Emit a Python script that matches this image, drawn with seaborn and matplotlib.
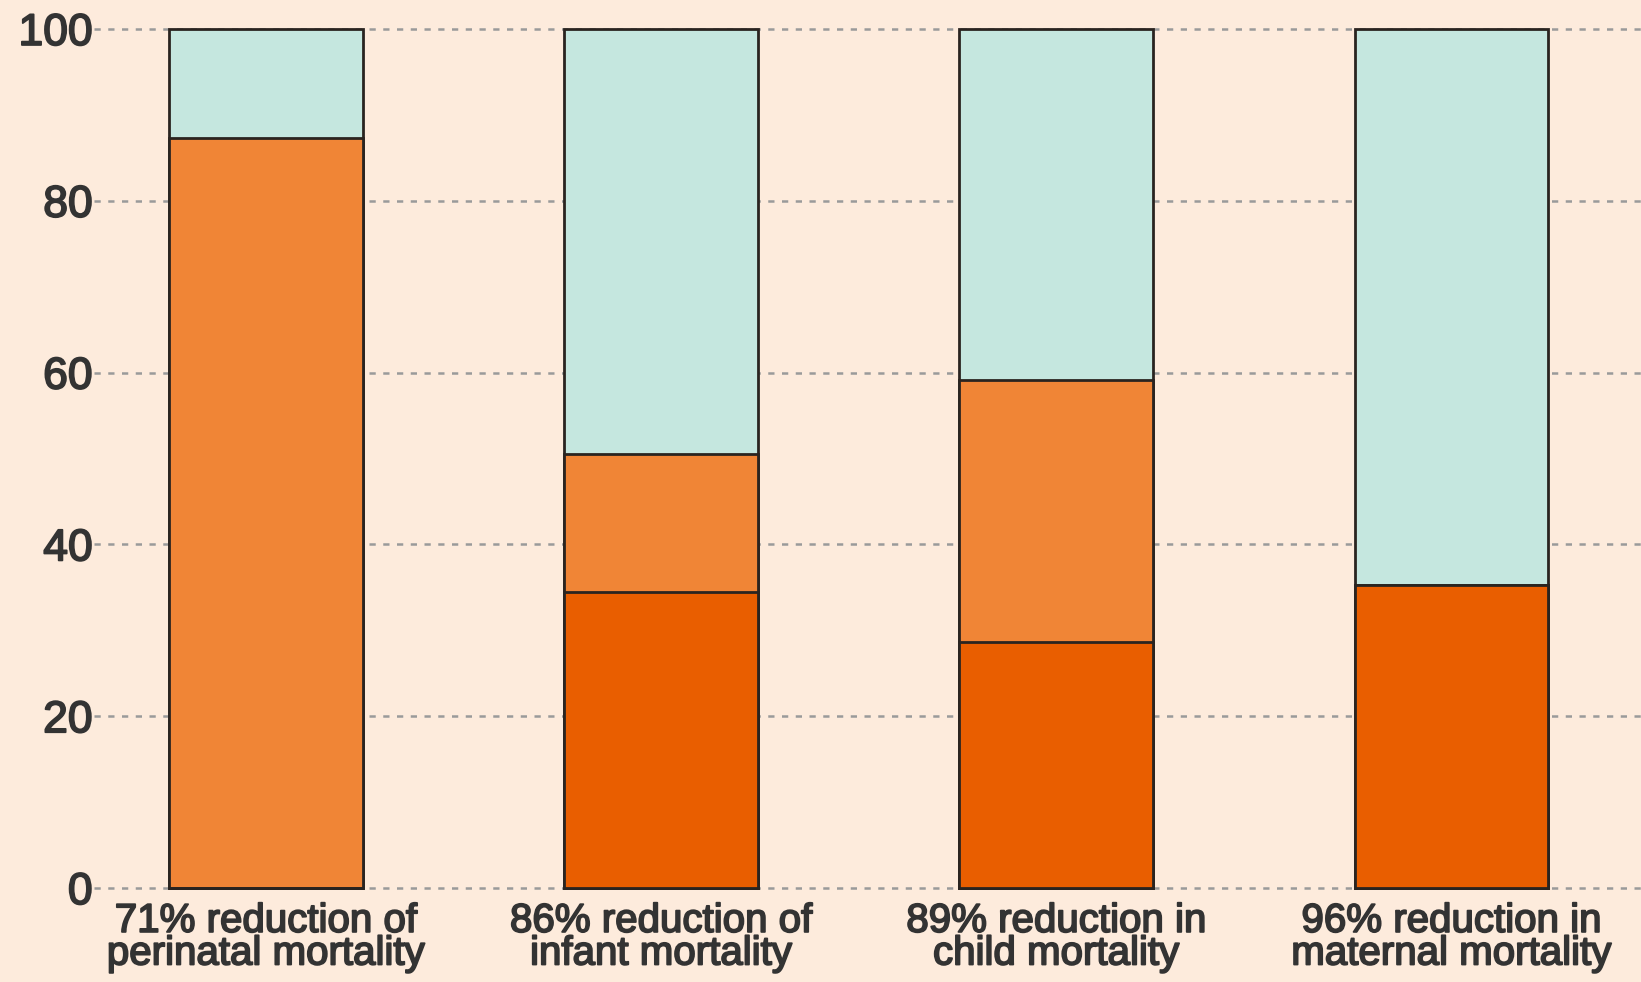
import matplotlib
matplotlib.use("Agg")
import matplotlib.pyplot as plt
import matplotlib.patheffects as pe
import seaborn as sns
import pandas as pd
import numpy as np

categories = ["71% reduction of\nperinatal mortality",
              "86% reduction of\ninfant mortality",
              "89% reduction in\nchild mortality",
              "96% reduction in\nmaternal mortality"]
dark_part = [0.0, 34.5, 28.6, 35.3]
mid_part = [87.3, 16.0, 30.5, 0.0]
light_part = [12.7, 49.5, 40.9, 64.7]

yticks = [0, 20, 40, 60, 80, 100]

BG = "#FDEBDC"
C_LIGHT = "#C5E7DF"
C_MID = "#F08536"
C_DARK = "#E95E00"
EDGE = "#2a2420"
TXT = "#333333"

sns.set_theme(style="white")
plt.rcParams['font.family'] = ['Liberation Sans', 'DejaVu Sans']

df = pd.DataFrame({
    "cat": categories,
    "dark": dark_part,
    "mid": mid_part,
    "light": light_part,
})
df["lvl1"] = df["dark"]
df["lvl2"] = df["dark"] + df["mid"]
df["lvl3"] = df["dark"] + df["mid"] + df["light"]

fig = plt.figure(figsize=(16.41, 9.82), dpi=100, facecolor=BG)
ax = fig.add_axes([0.0573, 0.0957, 0.9427, 0.8748])
ax.set_facecolor(BG)

for col, color in [("lvl3", C_LIGHT), ("lvl2", C_MID), ("lvl1", C_DARK)]:
    sns.barplot(data=df, x="cat", y=col, color=color, width=0.49,
                edgecolor=EDGE, linewidth=2.0, saturation=1, ax=ax, errorbar=None)

for p in ax.patches:
    p.set_clip_on(False)

ax.set_xlim(-0.435, 3.48)
ax.set_ylim(0, 100)
ax.set_yticks(yticks)
ax.set_yticklabels([str(t) for t in yticks], fontsize=32, color=TXT)
ax.tick_params(axis="y", length=0, pad=1)
ax.tick_params(axis="x", length=0, pad=10, labelsize=29, labelcolor=TXT)
stroke = [pe.withStroke(linewidth=1.3, foreground=TXT)]
for lbl in ax.get_xticklabels():
    lbl.set_linespacing(0.82)
    lbl.set_path_effects(stroke)
for lbl in ax.get_yticklabels():
    lbl.set_path_effects(stroke)
ax.set_xlabel("")
ax.set_ylabel("")

for t in yticks:
    ax.axhline(t, color="#9a9a9a", linestyle=(0, (2.5, 3)), linewidth=1.8,
               zorder=0, clip_on=False)

for s in ax.spines.values():
    s.set_visible(False)

fig.savefig("out.png", dpi=100, facecolor=BG)
